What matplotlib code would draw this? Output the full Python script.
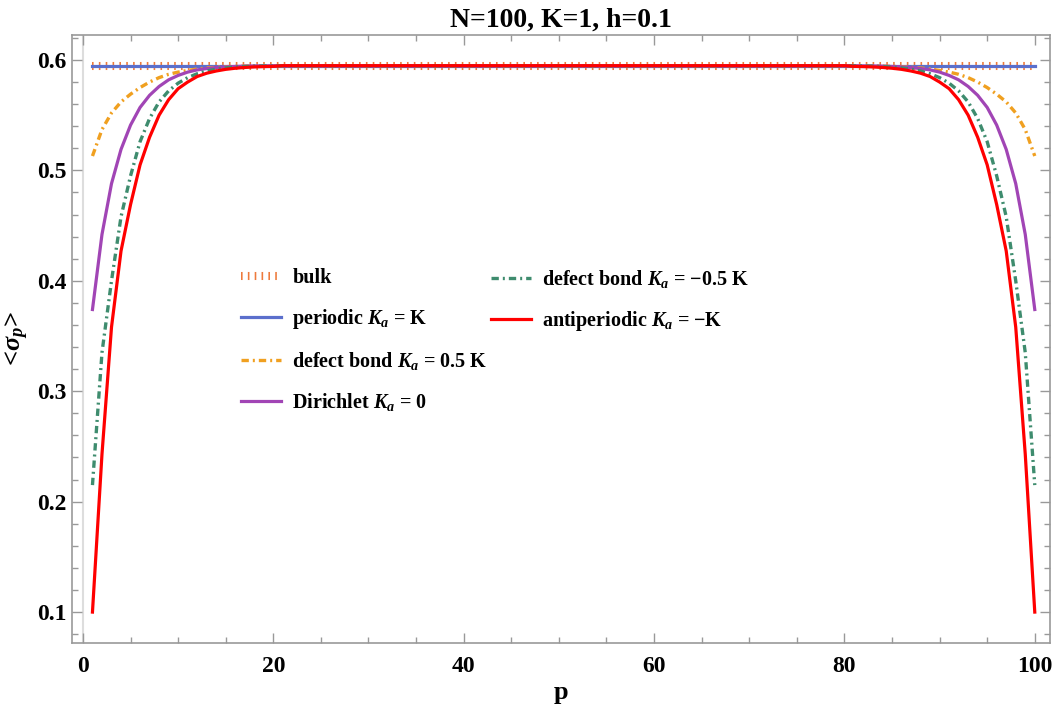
import matplotlib
matplotlib.use("Agg")
import matplotlib.pyplot as plt
from matplotlib.ticker import MultipleLocator

plt.rcParams['font.family'] = ['Liberation Serif', 'DejaVu Serif']
plt.rcParams['font.weight'] = 'bold'
plt.rcParams['mathtext.fontset'] = 'custom'
plt.rcParams['mathtext.rm'] = 'Liberation Serif:bold'
plt.rcParams['mathtext.it'] = 'Liberation Serif:italic:bold'
plt.rcParams['mathtext.bf'] = 'Liberation Serif:bold'

# Data, site index p = 1..100
p = list(range(1, 101))
bulk_value = 0.5948

bulk = [bulk_value] * 100
periodic = [0.5948] * 100

defect_pos = ([0.513, 0.537, 0.552, 0.562, 0.569, 0.575, 0.580, 0.584, 0.587, 0.589,
               0.5905, 0.5918, 0.5927, 0.5934, 0.5939, 0.5942, 0.5944, 0.5946, 0.5947, 0.5948]
              + [0.5948] * 60
              + [0.5948, 0.5947, 0.5946, 0.5944, 0.5942, 0.5939, 0.5934, 0.5927, 0.5918, 0.5905,
                 0.589, 0.587, 0.584, 0.580, 0.575, 0.569, 0.562, 0.552, 0.537, 0.513])

dirichlet = ([0.374, 0.442, 0.488, 0.519, 0.541, 0.557, 0.568, 0.576, 0.582, 0.586,
              0.589, 0.591, 0.5922, 0.5931, 0.5937, 0.5941, 0.5944, 0.5946, 0.5947, 0.5948]
             + [0.5948] * 60
             + [0.5948, 0.5947, 0.5946, 0.5944, 0.5941, 0.5937, 0.5931, 0.5922, 0.591, 0.589,
                0.586, 0.582, 0.576, 0.568, 0.557, 0.541, 0.519, 0.488, 0.442, 0.374])

defect_neg = ([0.215, 0.335, 0.400, 0.458, 0.495, 0.526, 0.547, 0.562, 0.572, 0.579,
               0.584, 0.5875, 0.590, 0.5916, 0.5928, 0.5935, 0.594, 0.5943, 0.5945, 0.5946]
              + [0.5948] * 60
              + [0.5946, 0.5945, 0.5943, 0.594, 0.5935, 0.5928, 0.5916, 0.590, 0.5875, 0.584,
                 0.579, 0.572, 0.562, 0.547, 0.526, 0.495, 0.458, 0.400, 0.335, 0.215])

antiperiodic = ([0.100, 0.243, 0.358, 0.427, 0.469, 0.505, 0.530, 0.550, 0.564, 0.574,
                 0.580, 0.585, 0.588, 0.590, 0.5915, 0.5925, 0.5932, 0.5937, 0.594, 0.5942]
                + [0.5948] * 60
                + [0.5942, 0.594, 0.5937, 0.5932, 0.5925, 0.5915, 0.590, 0.588, 0.585, 0.580,
                   0.574, 0.564, 0.550, 0.530, 0.505, 0.469, 0.427, 0.358, 0.243, 0.100])

labels = ['bulk',
          r'periodic $K_a$ = K',
          r'defect bond $K_a$ = 0.5 K',
          r'Dirichlet $K_a$ = 0',
          r'defect bond $K_a$ = ' + '\u22120.5 K',
          r'antiperiodic $K_a$ = ' + '\u2212K']

fig = plt.figure(figsize=(10.54, 7.13), dpi=100)
ax = fig.add_axes([72 / 1054, 70 / 713, (1050 - 72) / 1054, (643 - 35) / 713])

ax.axvline(0, color='#dddddd', lw=1.5, zorder=0)

dd = [2.2, 1.2, 0.6, 1.2]
h_bulk, = ax.plot(p, bulk, color='#EE7A3C', lw=5.8, dashes=[0.2, 0.65],
                  dash_capstyle='butt', zorder=1)
h_per, = ax.plot(p, periodic, color='#5B6FCC', lw=2.3, zorder=2)
h_pos, = ax.plot(p, defect_pos, color='#F0A020', lw=2.4, dashes=dd, zorder=3)
h_dir, = ax.plot(p, dirichlet, color='#A145B5', lw=2.3, zorder=4)
h_neg, = ax.plot(p, defect_neg, color='#3E8C6E', lw=2.4, dashes=dd, zorder=5)
h_anti, = ax.plot(p, antiperiodic, color='#FF0000', lw=2.3, zorder=6)

ax.set_xlim(-1.15, 101.6)
ax.set_ylim(0.072, 0.6226)
ax.set_xticks([0, 20, 40, 60, 80, 100])
ax.set_yticks([0.1, 0.2, 0.3, 0.4, 0.5, 0.6])
ax.xaxis.set_minor_locator(MultipleLocator(5))
ax.yaxis.set_minor_locator(MultipleLocator(0.02))
ax.tick_params(which='both', direction='in', top=True, right=True,
               color='#999999', width=1, labelsize=17)
ax.tick_params(which='major', length=7)
ax.tick_params(which='minor', length=4)
ax.tick_params(axis='x', pad=9)
ax.tick_params(axis='y', pad=4)
for s in ax.spines.values():
    s.set_color('#999999')
    s.set_linewidth(1.2)

ax.set_title('N=100, K=1, h=0.1', fontsize=20, fontweight='bold', pad=6)
ax.set_xlabel('p', fontsize=19, fontweight='bold', labelpad=3)
ax.set_ylabel(r'<$\sigma_p$>', fontsize=19, fontweight='bold', labelpad=4)

leg_kw = dict(frameon=False, fontsize=14.5, handlelength=2.0, handletextpad=0.55,
              labelspacing=0.95, borderpad=0, borderaxespad=0, loc='upper left')
leg1 = ax.legend([h_bulk, h_per, h_pos, h_dir], labels[:4],
                 bbox_to_anchor=(241 / 1054, 1 - 268 / 713),
                 bbox_transform=fig.transFigure, **leg_kw)
ax.add_artist(leg1)
ax.legend([h_neg, h_anti], labels[4:],
          bbox_to_anchor=(491 / 1054, 1 - 268 / 713),
          bbox_transform=fig.transFigure, **leg_kw)

fig.savefig('out.png', dpi=100)
